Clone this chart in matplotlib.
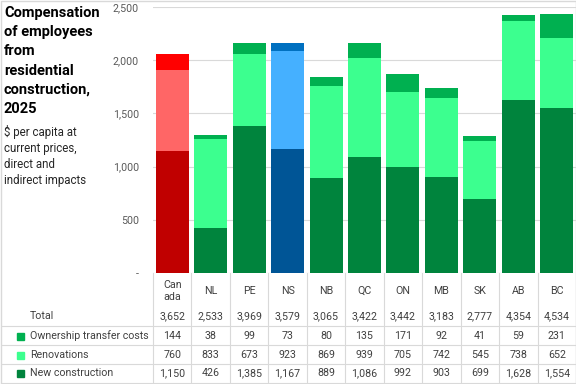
import numpy as np
import matplotlib
matplotlib.use("Agg")
import matplotlib.pyplot as plt
from matplotlib.transforms import blended_transform_factory
from matplotlib.patches import Rectangle
from matplotlib.lines import Line2D

regions = ["Canada", "NL", "PE", "NS", "NB", "QC", "ON", "MB", "SK", "AB", "BC"]
region_labels = ["Can\nada", "NL", "PE", "NS", "NB", "QC", "ON", "MB", "SK", "AB", "BC"]
new_construction = [1150, 426, 1385, 1167, 889, 1086, 992, 903, 699, 1628, 1554]
renovations = [760, 833, 673, 923, 869, 939, 705, 742, 545, 738, 652]
ownership_transfer = [144, 38, 99, 73, 80, 135, 171, 92, 41, 59, 231]
totals = [3652, 2533, 3969, 3579, 3065, 3422, 3442, 3183, 2777, 4354, 4534]

W, H = 576, 384
plt.rcParams['font.family'] = ['Roboto', 'DejaVu Sans']

# colours: Canada red, NS blue, rest green
def pick(r, red, blue, green):
    if r == "Canada":
        return red
    if r == "NS":
        return blue
    return green

c_new = [pick(r, '#C00000', '#005596', '#00843D') for r in regions]
c_ren = [pick(r, '#FF6666', '#45B0FF', '#3CFF8F') for r in regions]
c_own = [pick(r, '#FF0000', '#0070C0', '#00B050') for r in regions]

fig = plt.figure(figsize=(W / 100, H / 100), dpi=100)
ax = fig.add_axes([153 / W, 1 - 273 / H, 423 / W, 266 / H])

x = np.arange(len(regions))
new = np.array(new_construction)
ren = np.array(renovations)
own = np.array(ownership_transfer)
bw = 0.86
ax.bar(x, new, width=bw, color=c_new, zorder=3)
ax.bar(x, ren, width=bw, bottom=new, color=c_ren, zorder=3)
ax.bar(x, own, width=bw, bottom=new + ren, color=c_own, zorder=3)

ax.set_xlim(-0.5, len(regions) - 0.5)
ax.set_ylim(0, 2500)
yt = np.arange(0, 2501, 500)
ax.set_yticks(yt)
ax.set_yticklabels(["-" if v == 0 else f"{v:,}" for v in yt])
ax.tick_params(axis='y', length=0, labelsize=7.7, labelcolor='#595959', pad=10)
ax.set_xticks([])
ax.grid(axis='y', color='#D9D9D9', linewidth=0.8, zorder=0)
for s in ax.spines.values():
    s.set_visible(False)

# title block
def fy(px):
    return 1 - px / H

title_lines = ["Compensation", "of employees", "from", "residential", "construction,", "2025"]
for i, t in enumerate(title_lines):
    fig.text(4 / W, fy(13 + i * 19.2), t, fontsize=10.5, fontweight='bold',
             va='center', ha='left', color='black')
sub_lines = ["$ per capita at", "current prices,", "direct and", "indirect impacts"]
for i, t in enumerate(sub_lines):
    fig.text(4 / W, fy(132 + i * 16.2), t, fontsize=8.3, va='center', ha='left', color='#262626')

# data table below the bars
tr = blended_transform_factory(ax.transData, fig.transFigure)
grid_c = '#D9D9D9'
for i, lab in enumerate(region_labels):
    ax.text(i, fy(291), lab, transform=tr, ha='center', va='center', fontsize=7.7,
            color='#404040', linespacing=1.25)

rows = [("Total", totals, None, 316),
        ("Ownership transfer costs", ownership_transfer, '#00B050', 336),
        ("Renovations", renovations, '#3CFF8F', 355),
        ("New construction", new_construction, '#00843D', 373)]
for name, vals, col, ypx in rows:
    fig.text(30 / W, fy(ypx), name, fontsize=7.7, va='center', ha='left', color='#404040')
    if col is not None:
        fig.add_artist(Rectangle((17 / W, fy(ypx + 3.5)), 7 / W, 7 / H,
                                 transform=fig.transFigure, color=col))
    for i, v in enumerate(vals):
        ax.text(i, fy(ypx), f"{v:,}", transform=tr, ha='center', va='center',
                fontsize=7.7, color='#404040')

for k in range(len(regions) + 1):
    fig.add_artist(Line2D([k - 0.5, k - 0.5], [fy(273), fy(383)], transform=tr,
                          color=grid_c, linewidth=0.8))
for ypx in [326, 345, 364, 383]:
    fig.add_artist(Line2D([2 / W, 1], [fy(ypx), fy(ypx)], transform=fig.transFigure,
                          color=grid_c, linewidth=0.8))

# outer border
fig.add_artist(Rectangle((0.5 / W, 0.5 / H), 1 - 1 / W, 1 - 1 / H, transform=fig.transFigure,
                         fill=False, edgecolor='#D9D9D9', linewidth=1))

fig.savefig("out.png", dpi=100)
